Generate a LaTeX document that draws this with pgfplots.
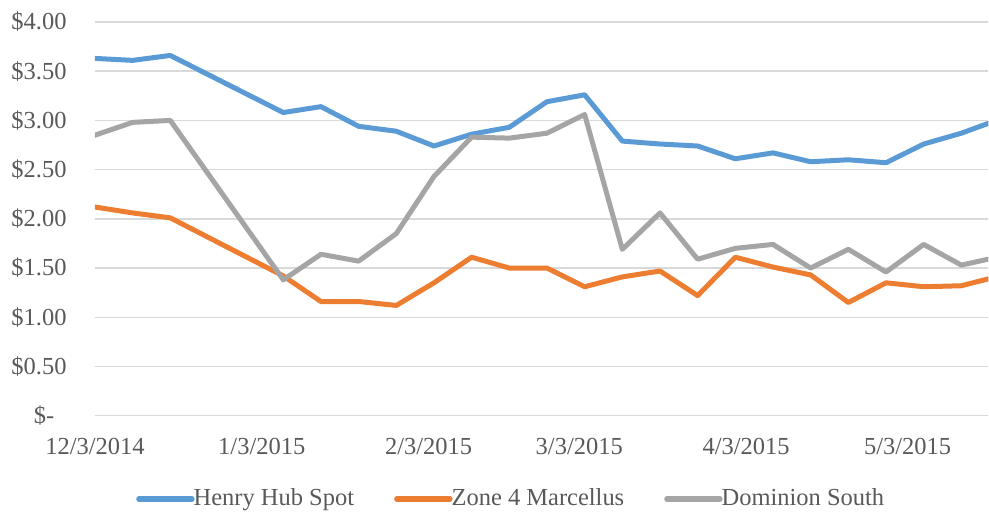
\documentclass[border=0pt]{standalone}
\usepackage{fontspec}
\setmainfont{Liberation Serif}
\usepackage{pgfplots}
\usepackage{pgfplotstable}
\pgfplotsset{compat=1.18}
\usetikzlibrary{calc}

\definecolor{hhblue}{HTML}{5B9BD5}
\definecolor{z4orange}{HTML}{ED7D31}
\definecolor{domgray}{HTML}{A5A5A5}
\definecolor{gridgray}{HTML}{D9D9D9}
\definecolor{labelgray}{HTML}{595959}

% days since 12/3/2014
\pgfplotstableread{
day  henry zone4 dominion
0    3.63  2.12  2.85
7    3.61  2.06  2.98
14   3.66  2.01  3.00
35   3.08  1.42  1.38
42   3.14  1.16  1.64
49   2.94  1.16  1.57
56   2.89  1.12  1.85
63   2.74  1.35  2.43
70   2.86  1.61  2.83
77   2.93  1.50  2.82
84   3.19  1.50  2.87
91   3.26  1.31  3.06
98   2.79  1.41  1.69
105  2.76  1.47  2.06
112  2.74  1.22  1.59
119  2.61  1.61  1.70
126  2.67  1.51  1.74
133  2.58  1.43  1.50
140  2.60  1.15  1.69
147  2.57  1.35  1.46
154  2.76  1.31  1.74
161  2.87  1.32  1.53
166  2.97  1.39  1.59
}\prices

\begin{document}
\fontsize{24.5}{29}\selectfont
\begin{tikzpicture}
\begin{axis}[
    name=ax,
    scale only axis,
    width=894pt, height=394pt,
    xmin=0, xmax=166,
    ymin=0, ymax=4,
    axis line style={draw=none},
    major tick length=0pt,
    ytick={0,0.5,1,1.5,2,2.5,3,3.5,4},
    yticklabels={\$-\phantom{0},\$0.50,\$1.00,\$1.50,\$2.00,\$2.50,\$3.00,\$3.50,\$4.00},
    xtick={0,31,62,90,121,151},
    xticklabels={12/3/2014,1/3/2015,2/3/2015,3/3/2015,4/3/2015,5/3/2015},
    ymajorgrids,
    grid style={gridgray, line width=1.5pt},
    tick label style={font=\fontsize{24.5}{29}\selectfont, text=labelgray},
    yticklabel style={anchor=east, xshift=-20pt},
    xticklabel style={anchor=north, yshift=-14pt},
    legend columns=3,
    legend style={draw=none, fill=none, at={(0.466,-0.212)}, anchor=center,
        font=\fontsize{24.5}{29}\selectfont, text=labelgray,
        /tikz/every even column/.append style={column sep=38pt},
        /tikz/every odd column/.append style={column sep=-3pt},
        inner sep=0pt},
    legend cell align=left,
    legend image code/.code={\draw[#1, line width=5.5pt, line cap=round] (0pt,0pt) -- (53pt,0pt);},
    every axis plot/.append style={line width=5pt, line join=round, line cap=round},
]
\addplot[hhblue] table[x=day, y=henry] {\prices};
\addlegendentry{Henry Hub Spot}
\addplot[z4orange] table[x=day, y=zone4] {\prices};
\addlegendentry{Zone 4 Marcellus}
\addplot[domgray] table[x=day, y=dominion] {\prices};
\addlegendentry{Dominion South}
\end{axis}
\useasboundingbox ($(ax.south west)+(-95pt,-94pt)$) rectangle ($(ax.north east)+(0pt,22pt)$);
\end{tikzpicture}
\end{document}
